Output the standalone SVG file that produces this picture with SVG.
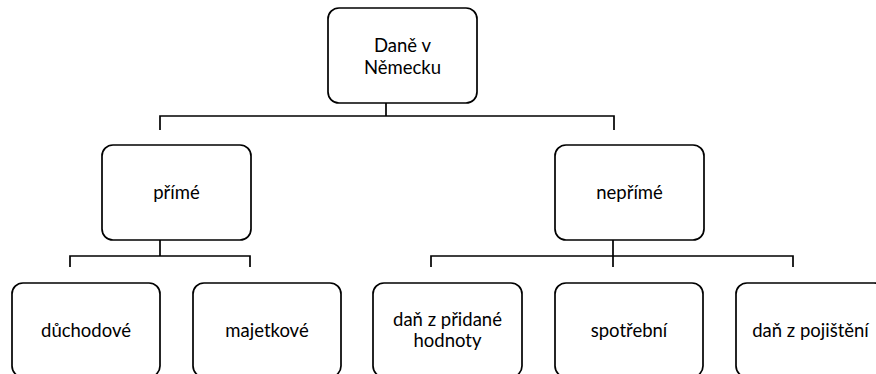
<svg xmlns="http://www.w3.org/2000/svg" width="876" height="374" viewBox="0 0 876 374">
<style>
.box{fill:#fff;stroke:#000;stroke-width:1.7}
.conn{fill:none;stroke:#000;stroke-width:1.7}
text{font-family:Lato,"Open Sans","Liberation Sans",sans-serif;font-size:18.5px;fill:#000;text-anchor:middle}
</style>
<rect width="876" height="374" fill="#fff"/>
<g id="connectors">
<path class="conn" d="M386 103V116M160 130V116H614V130"/>
<path class="conn" d="M160 240V256M70 267V256H250V267"/>
<path class="conn" d="M613 240V256M431 267V256H793V267M613 256V267"/>
</g>
<g id="root">
<rect class="box" x="328" y="8" width="149" height="95" rx="11"/>
<text x="402.5" y="52">Daně v</text>
<text x="402.5" y="74">Německu</text>
</g>
<g id="prime">
<rect class="box" x="102" y="145" width="149" height="95" rx="11"/>
<text x="176.5" y="199">přímé</text>
</g>
<g id="neprime">
<rect class="box" x="555" y="145" width="149" height="95" rx="11"/>
<text x="629.5" y="199">nepřímé</text>
</g>
<g id="duchodove">
<rect class="box" x="12" y="283" width="148" height="94" rx="11"/>
<text x="86" y="337">důchodové</text>
</g>
<g id="majetkove">
<rect class="box" x="193" y="283" width="148" height="94" rx="11"/>
<text x="267" y="337">majetkové</text>
</g>
<g id="dph">
<rect class="box" x="373" y="283" width="149" height="94" rx="11"/>
<text x="447.5" y="326">daň z přidané</text>
<text x="447.5" y="347">hodnoty</text>
</g>
<g id="spotrebni">
<rect class="box" x="555" y="283" width="148" height="94" rx="11"/>
<text x="629" y="337">spotřební</text>
</g>
<g id="pojisteni">
<rect class="box" x="736" y="283" width="149" height="94" rx="11"/>
<text x="810.5" y="337">daň z pojištění</text>
</g>
</svg>
